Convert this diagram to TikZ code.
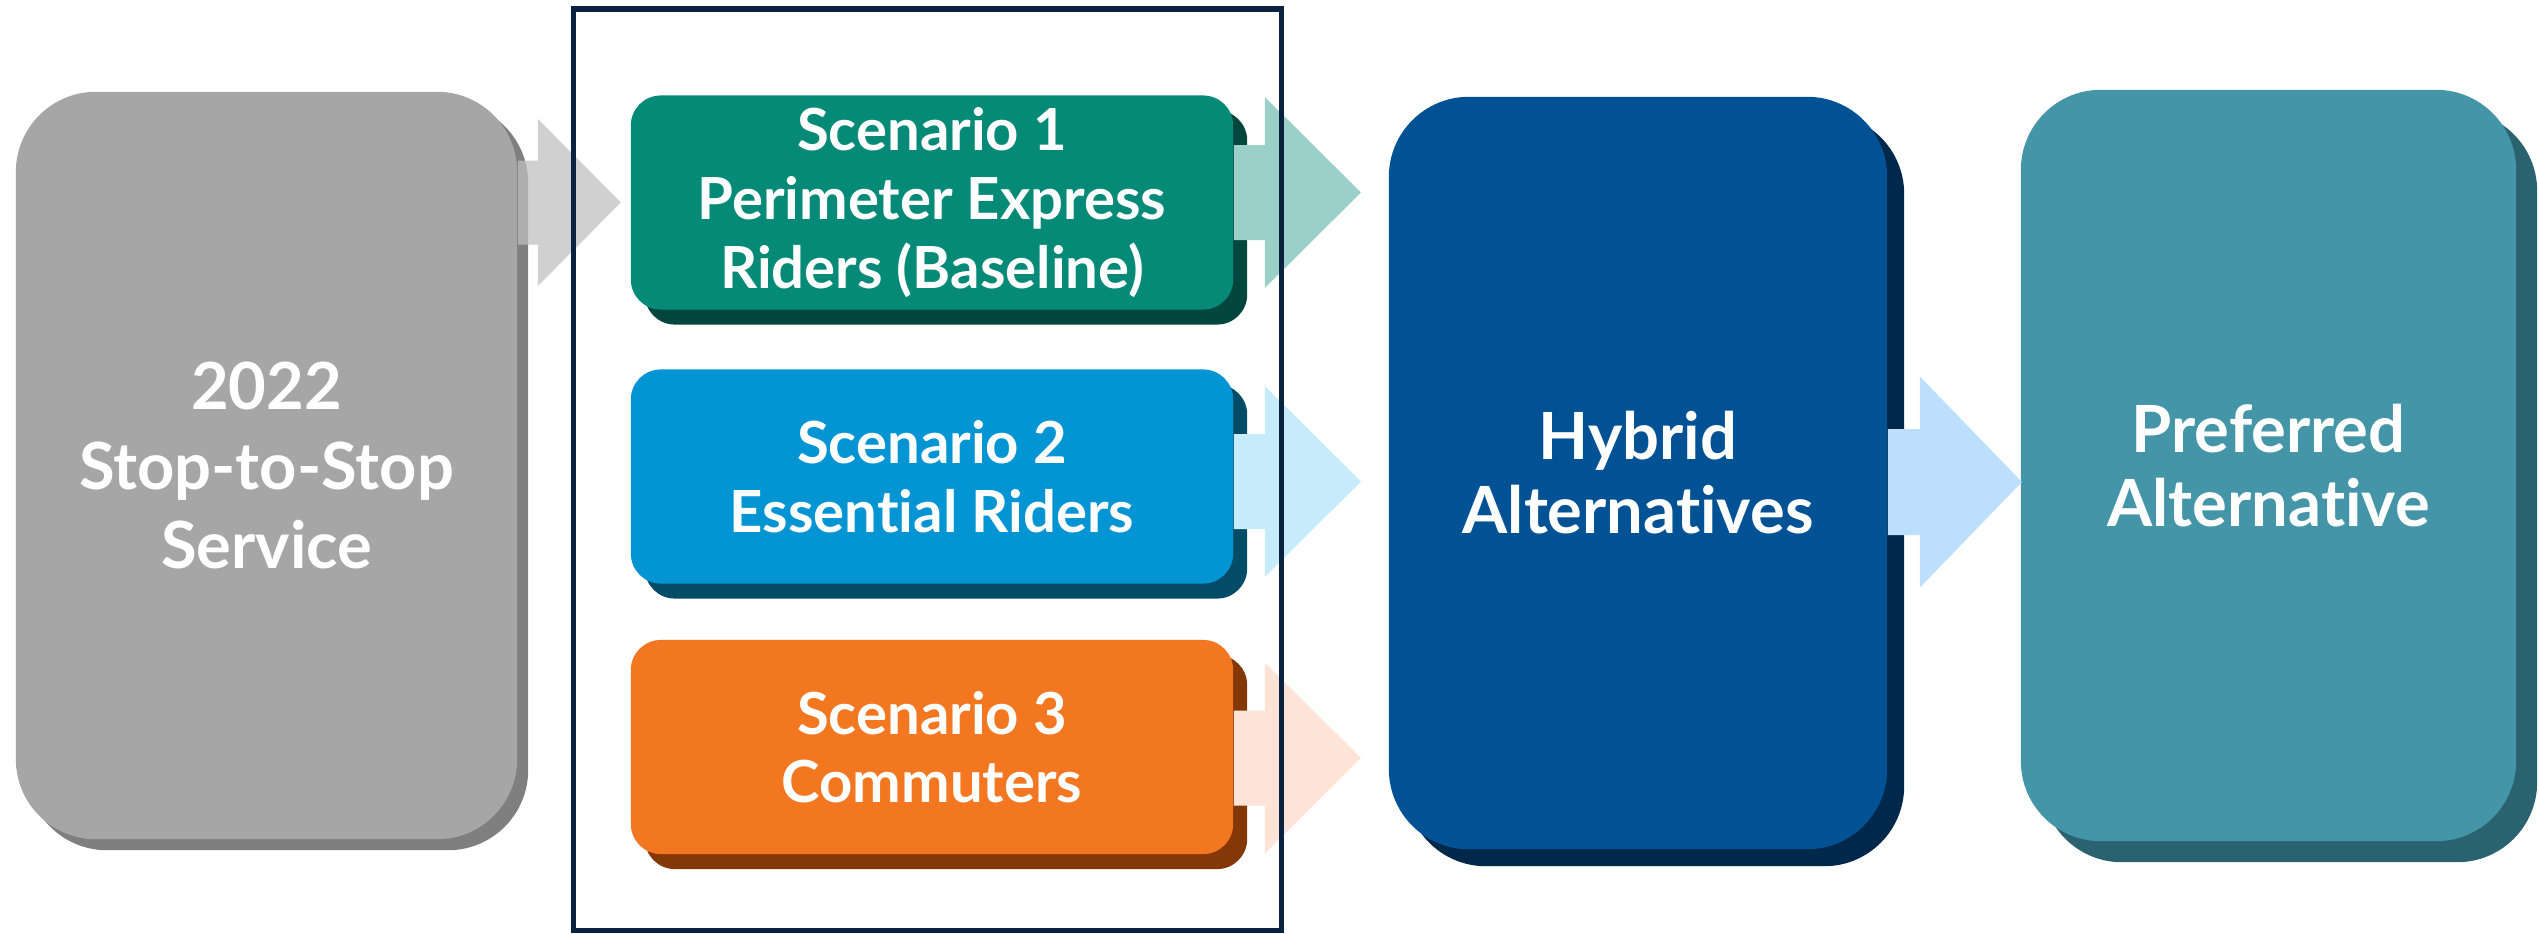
\documentclass[tikz,border=0pt]{standalone}
\usepackage{fontspec}
\setmainfont{Lato}[Ligatures={NoCommon,NoRequired,NoContextual}]
\usetikzlibrary{shadows,calc}

\definecolor{stopgray}{HTML}{A6A6A6}
\definecolor{stopgrayd}{HTML}{7F7F7F}
\definecolor{scenteal}{HTML}{068A78}
\definecolor{scenteald}{HTML}{03463E}
\definecolor{scenblue}{HTML}{0395D3}
\definecolor{scenblued}{HTML}{034C68}
\definecolor{scenorange}{HTML}{F37721}
\definecolor{scenoranged}{HTML}{843807}
\definecolor{hybblue}{HTML}{005295}
\definecolor{hybblued}{HTML}{00284A}
\definecolor{prefteal}{HTML}{4395A7}
\definecolor{preftealdd}{HTML}{2A626F}
\definecolor{framenavy}{HTML}{0B2140}

% block arrow: start, shaft half, head half, shaft length, head length, style
\newcommand\blockarrow[6]{%
  \fill[#6] (#1) ++(0,-#2) -- ++(#4,0) -- ++(0,#2-#3) -- ++(#5,#3)
    -- ++(-#5,#3) -- ++(0,#2-#3) -- ++(-#4,0) -- cycle;}

\begin{document}
\begin{tikzpicture}[x=0.01cm,y=-0.01cm,
    bigbox/.style n args={3}{rounded corners=0.8cm, inner sep=0pt, align=center,
      text=white, fill=#1, general shadow={fill=#2, shadow xshift=#3, shadow yshift=-#3},
      font=\bfseries\fontsize{18.5}{21}\selectfont},
    scenbox/.style 2 args={rounded corners=0.3cm, inner sep=0pt, align=center,
      text=white, fill=#1, general shadow={fill=#2, shadow xshift=0.14cm, shadow yshift=-0.15cm},
      minimum width=6.02cm, minimum height=2.14cm,
      font=\bfseries\fontsize{16.5}{19.5}\selectfont}]
    \useasboundingbox (0,0) rectangle (2539,933);

    \node[bigbox={stopgray}{stopgrayd}{0.11cm}, minimum width=5.01cm, minimum height=7.47cm,
      font=\bfseries\fontsize{18.5}{22.5}\selectfont] (stop) at (266.5,465.5)
      {2022\\Stop-to-Stop\\Service};
    \node[scenbox={scenteal}{scenteald}] (s1) at (932,202.5) {Scenario 1\\Perimeter Express\\Riders (Baseline)};
    \node[scenbox={scenblue}{scenblued}] (s2) at (932,476.5) {Scenario 2\\Essential Riders};
    \node[scenbox={scenorange}{scenoranged}] (s3) at (932,747) {Scenario 3\\Commuters};
    \node[bigbox={hybblue}{hybblued}{0.17cm}, minimum width=4.98cm, minimum height=7.52cm] (hyb) at (1638,473)
      {Hybrid\\Alternatives};
    \node[bigbox={prefteal}{preftealdd}{0.21cm}, minimum width=4.95cm, minimum height=7.51cm] (pref) at (2268.5,465.5)
      {Preferred\\Alternative};

    \blockarrow{stop.east |- s1.west}{42}{83.5}{20}{83}{fill=black!25, fill opacity=0.74}
    \blockarrow{$(s1.east)+(0,-10)$}{47.5}{95.5}{31}{96}{fill=scenteal!40}
    \blockarrow{$(s2.east)+(0,5)$}{47.5}{95.5}{31}{96}{fill={rgb,255:red,198;green,236;blue,252}}
    \blockarrow{$(s3.east)+(0,11)$}{47.5}{95.5}{31}{96}{fill={rgb,255:red,253;green,228;blue,214}}
    \blockarrow{$(hyb.east)+(0,9)$}{53}{105.5}{32}{102}{fill={rgb,255:red,187;green,223;blue,252}}

    \draw[framenavy, line width=0.055cm] (573.5,9) rectangle (1281.5,930.5);
\end{tikzpicture}
\end{document}
